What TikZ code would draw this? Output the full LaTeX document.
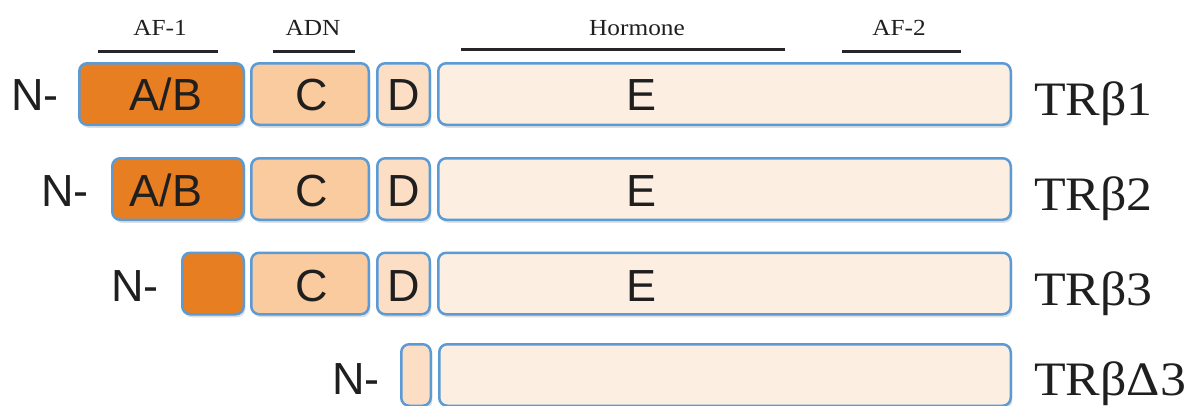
\documentclass[tikz,border=0pt]{standalone}
\usepackage{fontspec}
\setmainfont{Liberation Serif}
\newfontfamily\domfont{Liberation Sans}
\usetikzlibrary{shadows}
\definecolor{borderblue}{RGB}{91,155,213}
\definecolor{colAB}{RGB}{232,126,34}
\definecolor{colC}{RGB}{251,203,160}
\definecolor{colD}{RGB}{252,222,197}
\definecolor{colE}{RGB}{253,238,226}
\tikzset{
  dombox/.style={draw=borderblue, line width=2.5pt, rounded corners=8pt, minimum height=61.5pt, inner sep=0pt,
    drop shadow={shadow xshift=1.5pt, shadow yshift=-3pt, opacity=0.25}},
  domtext/.style={font=\domfont\fontsize{45}{45}\selectfont, text=black!88, inner sep=0pt, anchor=base},
  nterm/.style={font=\domfont\fontsize{45}{45}\selectfont, text=black!88, inner sep=0pt, anchor=base west},
  isoname/.style={font=\fontsize{48}{48}\selectfont, text=black!88, inner sep=0pt, anchor=base west, xscale=1.08},
  regname/.style={font=\fontsize{23}{23}\selectfont, text=black!88, inner sep=0pt, anchor=base, xscale=1.1},
  regline/.style={line width=3pt, black!85},
}

\begin{document}
\begin{tikzpicture}[x=1pt, y=-1pt]
\useasboundingbox (0,0) rectangle (1192,405);

\node[regname] (af1) at (160,35) {AF-1};
\node[regname] (adn) at (313,35) {ADN};
\node[regname] (horm) at (637,35) {Hormone};
\node[regname] (af2) at (899,35) {AF-2};
\draw[regline] (98,51) -- (218,51);
\draw[regline] (273,51) -- (355,51);
\draw[regline] (461,49) -- (785,49);
\draw[regline] (842,51) -- (961,51);

\node[dombox, fill=colAB, minimum width=164.5pt] (ab1) at (161.5,94) {};
\node[dombox, fill=colC, minimum width=117.5pt] (c1) at (310,94) {};
\node[dombox, fill=colD, minimum width=52.5pt] (d1) at (403.5,94) {};
\node[dombox, fill=colE, minimum width=572.5pt] (e1) at (724.5,94) {};
\node[nterm] (n1) at (11,110) {N-};
\node[domtext] (tab1) at (166,110) {A/B};
\node[domtext] (tc1) at (312,110) {C};
\node[domtext] (td1) at (404,110) {D};
\node[domtext] (te1) at (642,110) {E};
\node[isoname] (tr1) at (1034,115) {TRβ1};

\node[dombox, fill=colAB, minimum width=131.5pt] (ab2) at (178,189) {};
\node[dombox, fill=colC, minimum width=117.5pt] (c2) at (310,189) {};
\node[dombox, fill=colD, minimum width=52.5pt] (d2) at (403.5,189) {};
\node[dombox, fill=colE, minimum width=572.5pt] (e2) at (724.5,189) {};
\node[nterm] (n2) at (41,206) {N-};
\node[domtext] (tab2) at (166,206) {A/B};
\node[domtext] (tc2) at (312,206) {C};
\node[domtext] (td2) at (404,206) {D};
\node[domtext] (te2) at (642,206) {E};
\node[isoname] (tr2) at (1034,210) {TRβ2};

\node[dombox, fill=colAB, minimum width=61.5pt] (ab3) at (213,283.5) {};
\node[dombox, fill=colC, minimum width=117.5pt] (c3) at (310,283.5) {};
\node[dombox, fill=colD, minimum width=52.5pt] (d3) at (403.5,283.5) {};
\node[dombox, fill=colE, minimum width=572.5pt] (e3) at (724.5,283.5) {};
\node[nterm] (n3) at (111,301) {N-};
\node[domtext] (tc3) at (312,301) {C};
\node[domtext] (td3) at (404,301) {D};
\node[domtext] (te3) at (642,301) {E};
\node[isoname] (tr3) at (1034,305) {TRβ3};

\node[dombox, fill=colD, minimum width=29.5pt] (d4) at (416,375) {};
\node[dombox, fill=colE, minimum width=571.5pt] (e4) at (725,375) {};
\node[nterm] (n4) at (332,394) {N-};
\node[isoname] (tr4) at (1034,395) {TRβΔ3};
\end{tikzpicture}
\end{document}
